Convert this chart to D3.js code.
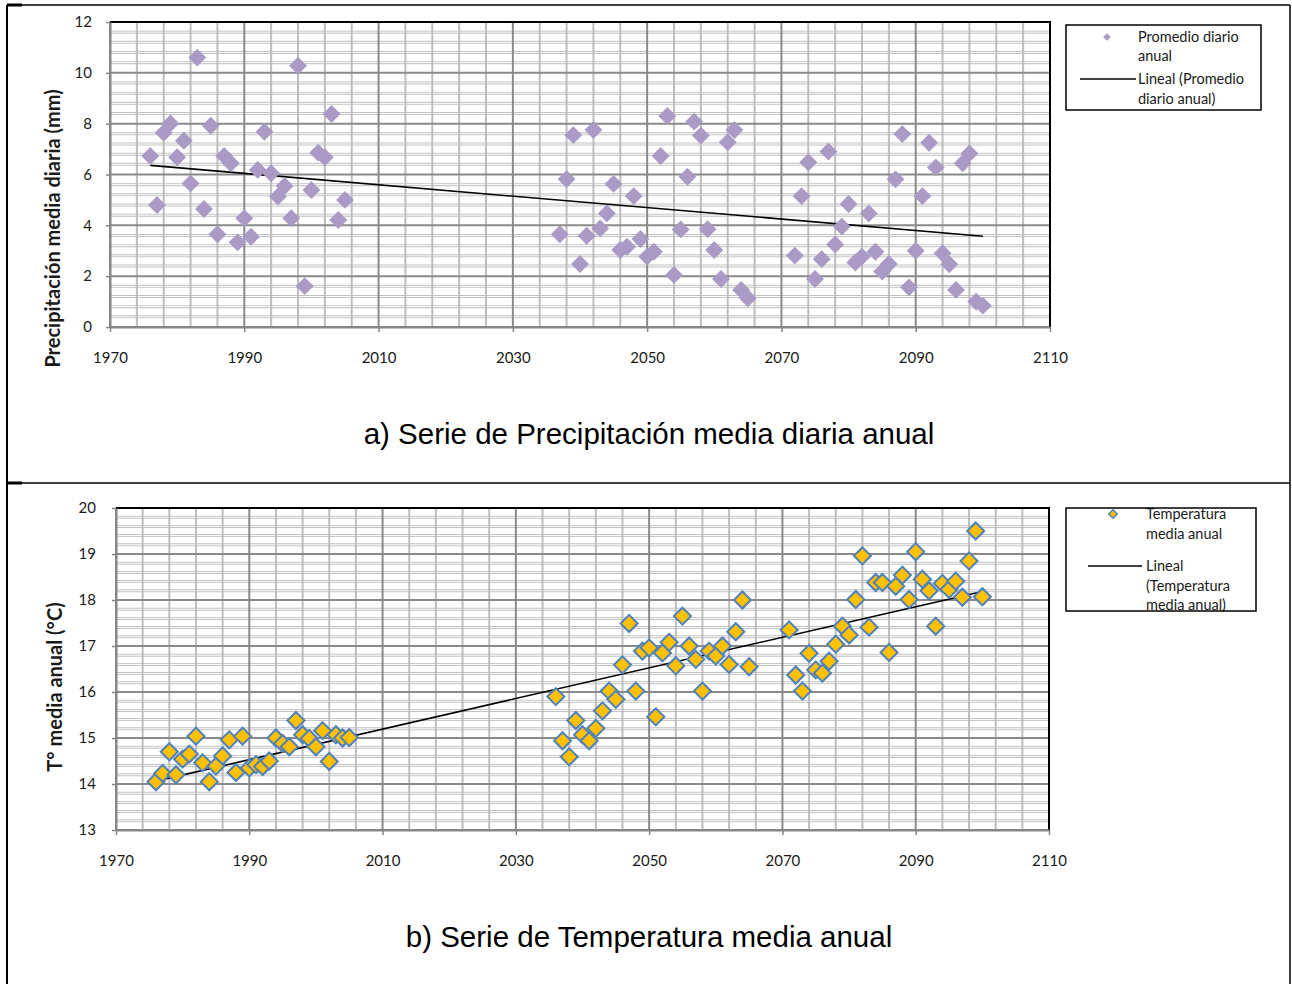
<!DOCTYPE html>
<html>
<head>
<meta charset="utf-8">
<script src="https://cdnjs.cloudflare.com/ajax/libs/d3/7.8.5/d3.min.js"></script>
<style>
  body { margin: 0; background: #fff; }
  svg text { font-family: Lato, "Open Sans", sans-serif; fill: #1a1a1a; }
  svg text.panel-title { font-family: "Liberation Sans", Arial, sans-serif; fill: #000; }
</style>
</head>
<body>
<svg id="chart" width="1292" height="984"></svg>
<script>
// a) precipitacion media diaria anual (mm)
var precipYears = [1976,1977,1978,1979,1980,1981,1982,1983,1984,1985,1986,1987,1988,1989,1990,
  1991,1992,1993,1994,1995,1996,1997,1998,1999,2000,2001,2002,2003,2004,2005,
  2037,2038,2039,2040,2041,2042,2043,2044,2045,2046,2047,2048,2049,2050,2051,
  2052,2053,2054,2055,2056,2057,2058,2059,2060,2061,2062,2063,2064,2065,
  2072,2073,2074,2075,2076,2077,2078,2079,2080,2081,2082,2083,2084,2085,2086,
  2087,2088,2089,2090,2091,2092,2093,2094,2095,2096,2097,2098,2099,2100];
var precipValues = [6.73,4.80,7.64,8.01,6.68,7.33,5.65,10.6,4.64,7.92,3.65,6.73,6.44,3.33,4.28,
  3.55,6.18,7.68,6.05,5.13,5.55,4.28,10.28,1.61,5.39,6.86,6.68,8.38,4.21,5.00,
  3.65,5.82,7.55,2.48,3.59,7.75,3.88,4.47,5.63,3.03,3.16,5.15,3.46,2.77,2.96,
  6.73,8.30,2.05,3.84,5.91,8.08,7.53,3.85,3.03,1.89,7.27,7.75,1.46,1.13,
  2.81,5.15,6.48,1.89,2.67,6.90,3.25,3.95,4.84,2.54,2.77,4.47,2.96,2.18,2.48,
  5.81,7.59,1.56,3.00,5.15,7.25,6.28,2.90,2.47,1.46,6.44,6.83,1.00,0.84];

// b) temperatura media anual (°C)
var tempYears = [1976,1977,1978,1979,1980,1981,1982,1983,1984,1985,1986,1987,1988,1989,1990,
  1991,1992,1993,1994,1995,1996,1997,1998,1999,2000,2001,2002,2003,2004,2005,
  2036,2037,2038,2039,2040,2041,2042,2043,2044,2045,2046,2047,2048,2049,2050,
  2051,2052,2053,2054,2055,2056,2057,2058,2059,2060,2061,2062,2063,2064,2065,
  2071,2072,2073,2074,2075,2076,2077,2078,2079,2080,2081,2082,2083,2084,2085,
  2086,2087,2088,2089,2090,2091,2092,2093,2094,2095,2096,2097,2098,2099,2100];
var tempValues = [14.05,14.23,14.70,14.20,14.54,14.65,15.04,14.46,14.05,14.39,14.61,14.96,14.25,15.04,14.35,
  14.42,14.38,14.50,15.00,14.88,14.81,15.38,15.07,14.99,14.81,15.16,14.49,15.07,15.00,15.01,
  15.90,14.94,14.59,15.38,15.07,14.94,15.21,15.59,16.02,15.84,16.59,17.49,16.02,16.89,16.96,
  15.46,16.85,17.08,16.57,17.65,17.00,16.71,16.02,16.89,16.78,17.00,16.60,17.31,18.00,16.55,
  17.35,16.37,16.02,16.84,16.48,16.41,16.67,17.04,17.43,17.24,18.01,18.96,17.41,18.38,18.38,
  16.86,18.30,18.54,18.01,19.05,18.45,18.20,17.43,18.36,18.23,18.41,18.06,18.85,19.50,18.07];

var xTicks = [1970,1990,2010,2030,2050,2070,2090,2110];
var precipTicks = [0,2,4,6,8,10,12];
var tempTicks = [13,14,15,16,17,18,19,20];

var svg = d3.select("#chart");

// marco tipo tabla
var frame = svg.append("g").attr("stroke", "#000").attr("fill", "none");
frame.append("line").attr("x1", 7).attr("y1", 5).attr("x2", 1290).attr("y2", 5).attr("stroke-width", 1.5);
frame.append("line").attr("x1", 7).attr("y1", 483).attr("x2", 1290).attr("y2", 483).attr("stroke-width", 1.5);
frame.append("line").attr("x1", 7).attr("y1", 5).attr("x2", 7).attr("y2", 984).attr("stroke-width", 2);
frame.append("line").attr("x1", 1290).attr("y1", 5).attr("x2", 1290).attr("y2", 984).attr("stroke-width", 1.5);
frame.append("line").attr("x1", 7).attr("y1", 5).attr("x2", 22).attr("y2", 5).attr("stroke-width", 3);
frame.append("line").attr("x1", 7).attr("y1", 483).attr("x2", 22).attr("y2", 483).attr("stroke-width", 3);

function linearFit(xs, ys) {
  var mx = d3.mean(xs), my = d3.mean(ys);
  var sxy = d3.sum(xs, function (d, i) { return (d - mx) * (ys[i] - my); });
  var sxx = d3.sum(xs, function (d) { return (d - mx) * (d - mx); });
  var b = sxy / sxx;
  return function (t) { return my + b * (t - mx); };
}

function drawPanel(p) {
  var x = d3.scaleLinear().domain([1970, 2110]).range([p.left, p.right]),
    y = d3.scaleLinear().domain(p.yDomain).range([p.bottom, p.top]),
    g = svg.append("g");

  // grid secundario
  var nx = (2110 - 1970) / 4, ny = Math.round((p.yDomain[1] - p.yDomain[0]) / p.minorStep);
  var vMinor = d3.range(0, nx + 1).map(function (i) { return 1970 + i * 4; })
    .filter(function (v) { return (v - 1970) % 20 !== 0; });
  var hMinor = d3.range(0, ny + 1).map(function (i) { return +(p.yDomain[0] + i * p.minorStep).toFixed(2); })
    .filter(function (v) { return p.yTicks.indexOf(v) < 0; });

  g.selectAll(".hm").data(hMinor).enter().append("line")
    .attr("x1", p.left).attr("x2", p.right)
    .attr("y1", function (d) { return y(d); }).attr("y2", function (d) { return y(d); })
    .attr("stroke", "#c2c2c2").attr("stroke-width", 3);
  g.selectAll(".hw").data(hMinor).enter().append("line")
    .attr("x1", p.left).attr("x2", p.right)
    .attr("y1", function (d) { return y(d); }).attr("y2", function (d) { return y(d); })
    .attr("stroke", "#fff").attr("stroke-width", 1);
  g.selectAll(".vm").data(vMinor).enter().append("line")
    .attr("x1", function (d) { return x(d); }).attr("x2", function (d) { return x(d); })
    .attr("y1", p.top).attr("y2", p.bottom)
    .attr("stroke", "#bdbdbd").attr("stroke-width", 2);

  // grid principal
  g.selectAll(".hM").data(p.yTicks).enter().append("line")
    .attr("x1", p.left).attr("x2", p.right)
    .attr("y1", function (d) { return y(d); }).attr("y2", function (d) { return y(d); })
    .attr("stroke", "#8a8a8a").attr("stroke-width", 2);
  g.selectAll(".vM").data(xTicks).enter().append("line")
    .attr("x1", function (d) { return x(d); }).attr("x2", function (d) { return x(d); })
    .attr("y1", p.top).attr("y2", p.bottom)
    .attr("stroke", "#8a8a8a").attr("stroke-width", 2);

  // borde del area de trazado
  g.append("path")
    .attr("d", "M" + p.left + "," + p.top + "H" + p.right + "V" + p.bottom)
    .attr("fill", "none").attr("stroke", "#000").attr("stroke-width", 2);

  // ejes
  var ax = g.append("g").attr("transform", "translate(0," + p.bottom + ")")
    .call(d3.axisBottom(x).tickValues(xTicks).tickFormat(d3.format("d"))
      .tickSize(5).tickSizeOuter(0).tickPadding(20));
  var ay = g.append("g").attr("transform", "translate(" + p.left + ",0)")
    .call(d3.axisLeft(y).tickValues(p.yTicks).tickFormat(d3.format("d"))
      .tickSize(4).tickSizeOuter(0).tickPadding(p.yPad));
  [ax, ay].forEach(function (a) {
    a.select(".domain").attr("stroke", "#868686").attr("stroke-width", 2);
    a.selectAll(".tick line").attr("stroke", "#868686").attr("stroke-width", 1.5);
    a.selectAll("text").attr("font-size", 15).attr("font-family", null).attr("fill", null);
  });

  // titulo eje y
  g.append("text")
    .attr("transform", "translate(" + p.yTitleX + "," + ((p.top + p.bottom) / 2 + p.yTitleShift) + ") rotate(-90)")
    .attr("text-anchor", "middle").attr("dy", "0.35em")
    .attr("font-size", 20).attr("font-weight", "bold")
    .text(p.yTitle);

  // linea de tendencia
  var fit = linearFit(p.years, p.values),
    x0 = d3.min(p.years), x1 = d3.max(p.years);
  g.append("line")
    .attr("x1", x(x0)).attr("y1", y(fit(x0)))
    .attr("x2", x(x1)).attr("y2", y(fit(x1)))
    .attr("stroke", "#000").attr("stroke-width", 1.6);

  // puntos
  var sym = d3.symbol().type(d3.symbolSquare).size(p.markerSize);
  g.selectAll(".pt").data(p.years).enter().append("path")
    .attr("d", sym)
    .attr("transform", function (d, i) { return "translate(" + x(d) + "," + y(p.values[i]) + ") rotate(45)"; })
    .attr("fill", p.fill)
    .attr("stroke", p.stroke || "none")
    .attr("stroke-width", p.stroke ? 2 : 0);

  // leyenda
  var lg = svg.append("g");
  lg.append("path")
    .attr("d", d3.symbol().type(d3.symbolSquare).size(p.legendMarker))
    .attr("transform", "translate(" + p.legend.mx + "," + p.legend.my + ") rotate(45)")
    .attr("fill", p.fill).attr("stroke", p.stroke || "none").attr("stroke-width", p.stroke ? 1.5 : 0);
  lg.append("line")
    .attr("x1", p.legend.lx0).attr("x2", p.legend.lx1)
    .attr("y1", p.legend.ly).attr("y2", p.legend.ly)
    .attr("stroke", "#000").attr("stroke-width", 1.6);
  lg.selectAll("text").data(p.legend.lines).enter().append("text")
    .attr("x", p.legend.tx).attr("y", function (d) { return d[1]; })
    .attr("dy", "0.35em").attr("font-size", 14.5)
    .text(function (d) { return d[0]; });
  lg.append("rect")
    .attr("x", p.legend.box[0]).attr("y", p.legend.box[1])
    .attr("width", p.legend.box[2] - p.legend.box[0]).attr("height", p.legend.box[3] - p.legend.box[1])
    .attr("fill", "none").attr("stroke", "#000").attr("stroke-width", 1.5);

  // titulo del panel
  svg.append("text")
    .attr("class", "panel-title")
    .attr("x", 649).attr("y", p.titleY).attr("text-anchor", "middle").attr("dy", "0.35em")
    .attr("font-size", 29.5)
    .text(p.title);
}

drawPanel({
  left: 110, right: 1050, top: 22, bottom: 327,
  yDomain: [0, 12], yTicks: precipTicks, minorStep: 0.4, yPad: 14,
  years: precipYears, values: precipValues,
  fill: "#a99bc6", markerSize: 160, legendMarker: 30,
  yTitle: "Precipitación media diaria (mm)", yTitleX: 53, yTitleShift: 54,
  title: "a) Serie de Precipitación media diaria anual", titleY: 434,
  legend: {
    box: [1066, 25, 1261, 110], mx: 1107, my: 37, tx: 1138,
    lx0: 1080, lx1: 1136, ly: 79,
    lines: [["Promedio diario", 37], ["anual", 56], ["Lineal (Promedio", 79], ["diario anual)", 99]]
  }
});

drawPanel({
  left: 116, right: 1049, top: 508, bottom: 830,
  yDomain: [13, 20], yTicks: tempTicks, minorStep: 0.2, yPad: 16,
  years: tempYears, values: tempValues,
  fill: "#ffc000", stroke: "#4f81bd", markerSize: 145, legendMarker: 36,
  yTitle: "T° media anual (°C)", yTitleX: 55, yTitleShift: 18,
  title: "b) Serie de Temperatura media anual", titleY: 937,
  legend: {
    box: [1066, 508, 1256, 611], mx: 1113, my: 514, tx: 1146,
    lx0: 1088, lx1: 1142, ly: 566,
    lines: [["Temperatura", 514], ["media anual", 534], ["Lineal", 566], ["(Temperatura", 586], ["media anual)", 605]]
  }
});
</script>
</body>
</html>
